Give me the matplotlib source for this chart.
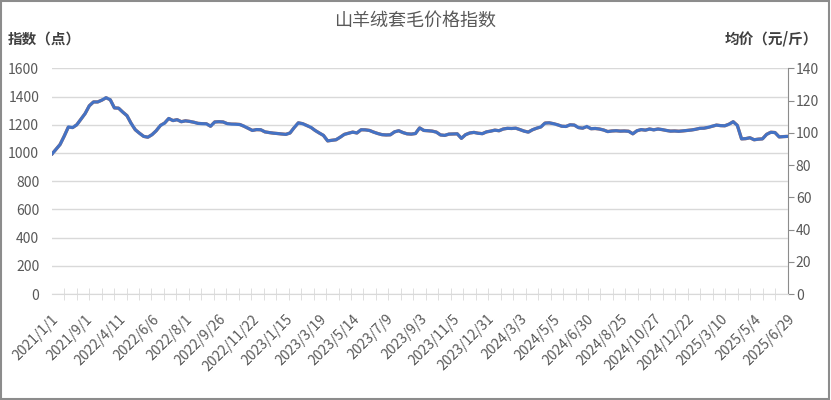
import numpy as np
import matplotlib
matplotlib.use('Agg')
from matplotlib import pyplot as plt
from matplotlib.patches import Rectangle

plt.rcParams['font.family'] = ['Noto Sans CJK SC', 'DejaVu Sans']

title = '山羊绒套毛价格指数'

# 每8个数据点一个日期标签
date_labels = ['2021/1/1', '2021/9/1', '2022/4/11', '2022/6/6', '2022/8/1', '2022/9/26',
               '2022/11/22', '2023/1/15', '2023/3/19', '2023/5/14', '2023/7/9', '2023/9/3',
               '2023/11/5', '2023/12/31', '2024/3/3', '2024/5/5', '2024/6/30', '2024/8/25',
               '2024/10/27', '2024/12/22', '2025/3/10', '2025/5/4', '2025/6/29']

# 指数（点）
index_vals = [990, 1025, 1060, 1120, 1185, 1180, 1200, 1240, 1280, 1335,
              1362, 1362, 1375, 1392, 1378, 1320, 1318, 1290, 1265, 1210,
              1165, 1140, 1118, 1112, 1130, 1158, 1195, 1212, 1245, 1230,
              1236, 1222, 1228, 1224, 1218, 1210, 1208, 1207, 1190, 1220,
              1222, 1220, 1208, 1205, 1204, 1202, 1190, 1175, 1160, 1166,
              1165, 1150, 1145, 1141, 1138, 1135, 1132, 1142, 1180, 1214,
              1208, 1195, 1182, 1160, 1142, 1125, 1086, 1090, 1094, 1112,
              1132, 1140, 1148, 1142, 1165, 1164, 1160, 1148, 1138, 1130,
              1128, 1129, 1150, 1158, 1145, 1136, 1134, 1138, 1178, 1160,
              1158, 1155, 1148, 1128, 1125, 1134, 1135, 1136, 1104, 1130,
              1142, 1146, 1140, 1137, 1150, 1155, 1162, 1158, 1170, 1175,
              1174, 1176, 1166, 1155, 1148, 1165, 1176, 1185, 1212, 1214,
              1208, 1200, 1190, 1188, 1200, 1198, 1180, 1176, 1188, 1172,
              1174, 1170, 1163, 1152, 1156, 1158, 1155, 1156, 1154, 1136,
              1158, 1166, 1162, 1170, 1164, 1170, 1166, 1160, 1155, 1156,
              1154, 1157, 1160, 1163, 1168, 1175, 1176, 1182, 1190, 1198,
              1194, 1193, 1204, 1222, 1195, 1100, 1102, 1108, 1094, 1098,
              1100, 1132, 1147, 1145, 1114, 1116, 1118]

# 均价（元/斤）
price_vals = [86.6, 89.7, 92.8, 98.0, 103.7, 103.3, 105.0, 108.5, 112.0, 116.8,
              119.2, 119.2, 120.3, 121.8, 120.6, 115.5, 115.3, 112.9, 110.7, 105.9,
              101.9, 99.8, 97.8, 97.3, 98.9, 101.3, 104.6, 106.1, 108.9, 107.6,
              108.2, 106.9, 107.5, 107.1, 106.6, 105.9, 105.7, 105.6, 104.1, 106.8,
              106.9, 106.8, 105.7, 105.4, 105.4, 105.2, 104.1, 102.8, 101.5, 102.0,
              101.9, 100.6, 100.2, 99.8, 99.6, 99.3, 99.1, 99.9, 103.3, 106.2,
              105.7, 104.6, 103.4, 101.5, 99.9, 98.4, 95.0, 95.4, 95.7, 97.3,
              99.1, 99.8, 100.5, 99.9, 101.9, 101.9, 101.5, 100.5, 99.6, 98.9,
              98.7, 98.8, 100.6, 101.3, 100.2, 99.4, 99.2, 99.6, 103.1, 101.5,
              101.3, 101.1, 100.5, 98.7, 98.4, 99.2, 99.3, 99.4, 96.6, 98.9,
              99.9, 100.3, 99.8, 99.5, 100.6, 101.1, 101.7, 101.3, 102.4, 102.8,
              102.7, 102.9, 102.0, 101.1, 100.5, 101.9, 102.9, 103.7, 106.1, 106.2,
              105.7, 105.0, 104.1, 104.0, 105.0, 104.8, 103.3, 102.9, 104.0, 102.6,
              102.7, 102.4, 101.8, 100.8, 101.2, 101.3, 101.1, 101.2, 101.0, 99.4,
              101.3, 102.0, 101.7, 102.4, 101.9, 102.4, 102.0, 101.5, 101.1, 101.2,
              101.0, 101.2, 101.5, 101.8, 102.2, 102.8, 102.9, 103.4, 104.1, 104.8,
              104.5, 104.4, 105.4, 106.9, 104.6, 96.3, 96.4, 97.0, 95.7, 96.1,
              96.3, 99.1, 100.4, 100.2, 97.5, 97.7, 97.8]

n = len(index_vals)
x = np.arange(n)
txt = '#595959'

fig = plt.figure(figsize=(8.31, 4.0), dpi=100)
ax = fig.add_axes([0.0622, 0.265, 0.8855, 0.564])
ax2 = ax.twinx()

ax2.plot(x, price_vals, color='#ED7D31', lw=2.3, solid_capstyle='round')
ax.plot(x, index_vals, color='#4472C4', lw=2.3, solid_capstyle='round')
ax.set_zorder(ax2.get_zorder() + 1)
ax.patch.set_visible(False)

ax.set_xlim(0, n - 1)
ax.set_ylim(0, 1600)
ax.set_yticks(np.arange(0, 1601, 200))
ax2.set_ylim(0, 140)
ax2.set_yticks(np.arange(0, 141, 20))

ax.grid(axis='y', color='#d9d9d9', lw=1)
ax.set_axisbelow(True)

for s in ['top', 'left', 'right']:
    ax.spines[s].set_visible(False)
    ax2.spines[s].set_visible(False)
ax.spines['bottom'].set_color('#d9d9d9')
ax2.spines['bottom'].set_visible(False)
ax2.spines['right'].set_visible(True)
ax2.spines['right'].set_color('#8c8c8c')

ax.set_xticks(np.arange(0, n, 8))
ax.set_xticklabels(date_labels, rotation=45, ha='right', rotation_mode='anchor',
                   fontsize=10, color=txt)
ax.set_xticks(np.linspace(0, n - 1, 60), minor=True)
ax.tick_params(axis='x', which='major', length=0, pad=13)
ax.tick_params(axis='x', which='minor', length=9, direction='inout', color='#d9d9d9')
ax.tick_params(axis='y', length=0, pad=9, labelsize=10, labelcolor=txt)
ax2.tick_params(axis='y', length=4, color='#8c8c8c', pad=2, labelsize=10, labelcolor=txt)

fig.text(0.5, 0.946, title, ha='center', va='center', fontsize=13, color=txt)
fig.text(0.0096, 0.904, '指数（点）', ha='left', va='center', fontsize=10.5,
         fontweight='bold', color='#404040')
fig.text(0.984, 0.904, '均价（元/斤）', ha='right', va='center', fontsize=10.5,
         fontweight='bold', color='#404040')

fig.patches.append(Rectangle((0.001, 0.002), 0.997, 0.995, transform=fig.transFigure,
                             fill=False, edgecolor='#8c8c8c', lw=1.5))

fig.savefig('out.png', dpi=100)
